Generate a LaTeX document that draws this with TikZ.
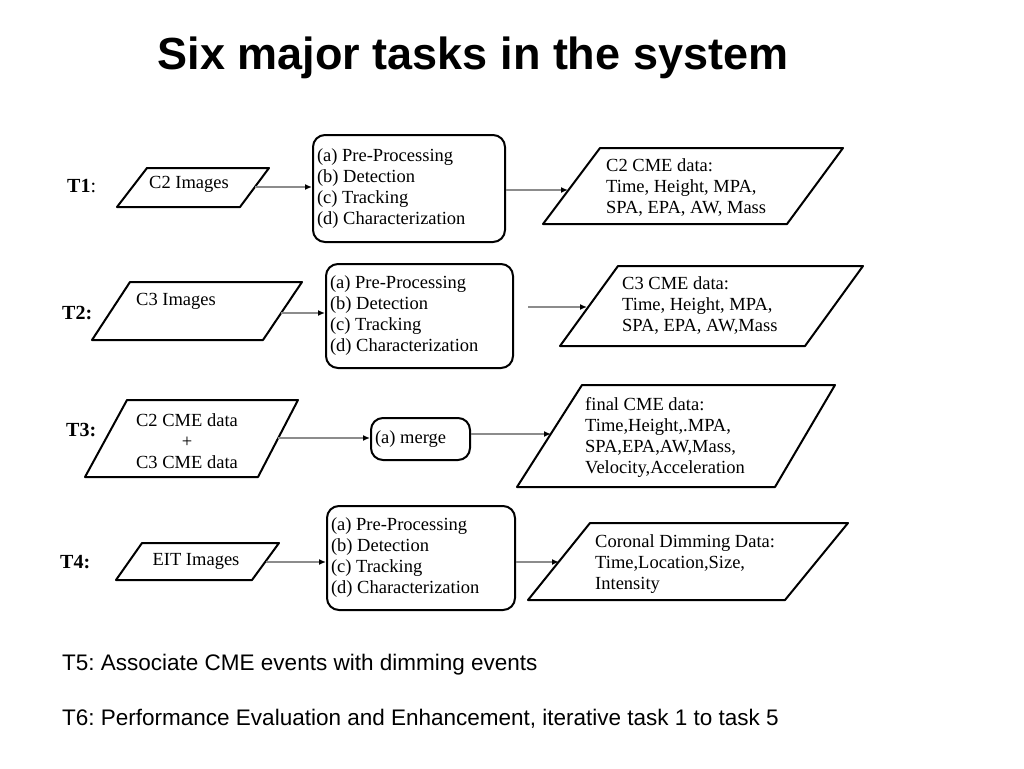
\documentclass[tikz,border=0pt]{standalone}
\usepackage{fontspec}
\setmainfont{Liberation Serif}
\newfontfamily\sansf{Liberation Sans}
\usetikzlibrary{arrows.meta,calc}
\newcommand\bxfont{\fontsize{18.5}{21}\selectfont\frenchspacing}
\newcommand\stagelist{\spaceskip=0pt\xspaceskip=0pt\relax
  (a) Pre-Processing\\(b) Detection\\(c) Tracking\\(d) Characterization}
\definecolor{conngray}{RGB}{140,140,140}
\begin{document}
\begin{tikzpicture}[x=1pt,y=-1pt,
  shp/.style={draw=black,line width=2pt,line join=round},
  proc/.style={draw=black,line width=2pt,rounded corners=12pt,align=left,inner xsep=4pt,inner ysep=0pt,font=\bxfont},
  conn/.style={draw=conngray,line width=2pt,-{Latex[black,length=7pt,width=6pt]}},
  dtxt/.style={align=left,font=\bxfont,inner sep=0pt,anchor=west},
  ctxt/.style={align=center,font=\bxfont,inner sep=0pt},
  tlab/.style={font=\fontsize{20}{24}\selectfont,inner sep=0pt,anchor=west}]
\fill[white] (0,0) rectangle (1024,768);
\useasboundingbox (0,0) rectangle (1024,768);

% title
\node[font=\sansf\bfseries\fontsize{45}{54}\selectfont,anchor=base,inner sep=0pt] (title) at (473,70) {Six major tasks in the system};

% task labels
\node[tlab] (l1) at (67,186) {\textbf{T1}:};
\node[tlab] (l2) at (62,313) {\textbf{T2:}};
\node[tlab] (l3) at (66,430) {\textbf{T3:}};
\node[tlab] (l4) at (60,562) {\textbf{T4:}};

% input parallelograms
\draw[shp] (147,168) -- (269,168) -- (240,207) -- (117,207) -- cycle;
\node[ctxt] (p1) at (189,184) {C2 Images};
\draw[shp] (130,282) -- (302,282) -- (263,340) -- (92,340) -- cycle;
\node[ctxt] (p2) at (176,301) {C3 Images};
\draw[shp] (127,400) -- (298,400) -- (258,477) -- (85,477) -- cycle;
\node[ctxt] (p3) at (187,441) {C2 CME data\\+\\C3 CME data};
\draw[shp] (142,543) -- (279,543) -- (252,580) -- (116,580) -- cycle;
\node[ctxt] (p4) at (196,561) {EIT Images};

% process boxes
\node[proc,text width=184pt,minimum height=107pt] (b1) at (409,188.5) {\stagelist};
\node[proc,text width=179pt,minimum height=104pt] (b2) at (419.5,316) {\stagelist};
\node[proc,text width=91pt,minimum height=42pt] (bm) at (420.5,439) {\spaceskip=0pt\relax (a) merge};
\node[proc,text width=180pt,minimum height=104pt] (b4) at (421,558) {\stagelist};

% output parallelograms
\draw[shp] (600,148) -- (843,148) -- (787,224) -- (543,224) -- cycle;
\node[dtxt] (q1) at (606,188) {C2 CME data:\\Time, Height, MPA,\\SPA, EPA, AW, Mass};
\draw[shp] (618,266) -- (863,266) -- (805,346) -- (560,346) -- cycle;
\node[dtxt] (q2) at (622,306) {C3 CME data:\\Time, Height, MPA,\\SPA, EPA, AW,Mass};
\draw[shp] (582,385) -- (835,385) -- (775,487) -- (517,487) -- cycle;
\node[dtxt] (q3) at (585,437) {final CME data:\\Time,Height,.MPA,\\SPA,EPA,AW,Mass,\\Velocity,Acceleration};
\draw[shp] (590,523) -- (848,523) -- (785,600) -- (528,600) -- cycle;
\node[dtxt] (q4) at (595,564) {Coronal Dimming Data:\\Time,Location,Size,\\Intensity};

% connector end points on the parallelogram edges
\coordinate (p1e) at (255,187);
\coordinate (p2e) at (281,313);
\coordinate (p3e) at (278,438);
\coordinate (p4e) at (266,562);
\coordinate (q1e) at (568,190);
\coordinate (a2s) at (528,307);
\coordinate (q2e) at (587,307);
\coordinate (q3e) at (551,434);
\coordinate (q4e) at (559,562);

% connectors
\draw[conn] (p1e) -- (p1e -| b1.west);
\draw[conn] (q1e -| b1.east) -- (q1e);
\draw[conn] (p2e) -- (p2e -| b2.west);
\draw[conn] (a2s) -- (q2e);
\draw[conn] (p3e) -- (p3e -| bm.west);
\draw[conn] (q3e -| bm.east) -- (q3e);
\draw[conn] (p4e) -- (p4e -| b4.west);
\draw[conn] (q4e -| b4.east) -- (q4e);

% bottom notes
\node[font=\sansf\fontsize{22.5}{27}\selectfont\frenchspacing,anchor=base west,inner sep=0pt] (t5) at (62,670) {T5: Associate CME events with dimming events};
\node[font=\sansf\fontsize{22.5}{27}\selectfont\frenchspacing,anchor=base west,inner sep=0pt] (t6) at (62,725) {T6: Performance Evaluation and Enhancement, iterative task 1 to task 5};
\end{tikzpicture}
\end{document}
